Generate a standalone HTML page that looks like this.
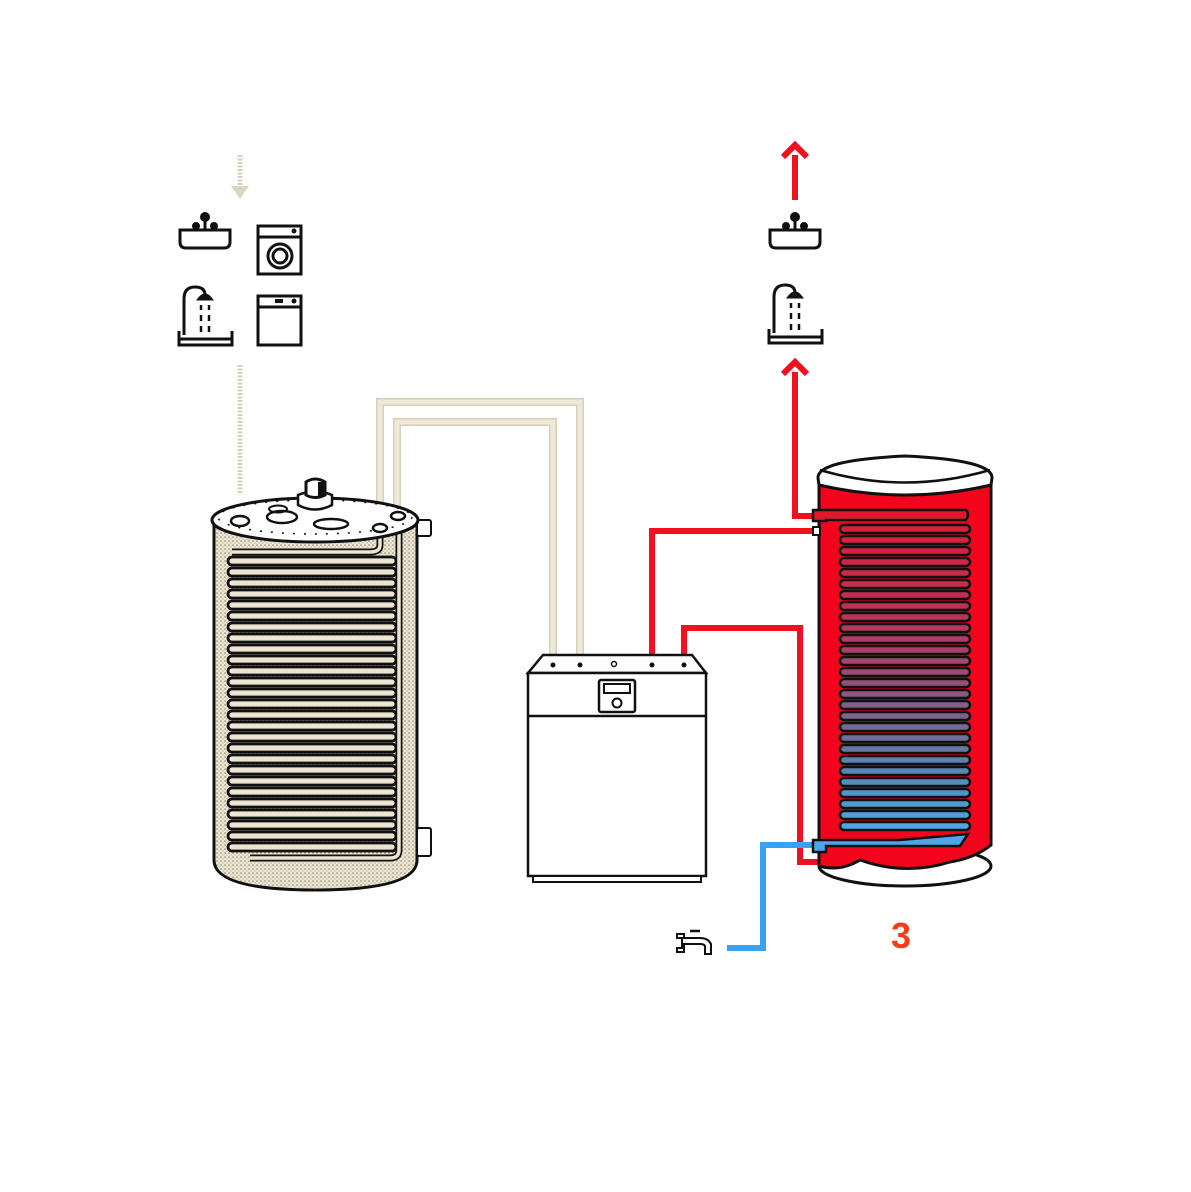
<!DOCTYPE html>
<html><head><meta charset="utf-8"><style>html,body{margin:0;padding:0;background:#fff}svg{display:block}</style></head>
<body>
<svg width="1191" height="1192" viewBox="0 0 1191 1192" xmlns="http://www.w3.org/2000/svg">
<defs>
<pattern id="dots" width="4" height="4" patternUnits="userSpaceOnUse">
<rect width="4" height="4" fill="#ede6d2"/><circle cx="1" cy="1" r="0.8" fill="#8a8170"/><circle cx="3" cy="3" r="0.6" fill="#a79e8a"/>
</pattern>
<rect id="lc" x="228" y="0" width="168" height="8" rx="4" fill="#ece5d2" stroke="#111" stroke-width="2.8"/>
<rect id="rc" x="840" y="0" width="130" height="8" rx="4" stroke="#111" stroke-width="2.6"/>
<g id="sink" fill="none" stroke="#111" stroke-width="3">
<path d="M2 18 H52 V30 Q52 36 46 36 H8 Q2 36 2 30 Z"/>
<circle cx="27" cy="5" r="3.5" fill="#111"/><line x1="27" y1="8" x2="27" y2="18"/>
<circle cx="18" cy="14" r="2.5" fill="#111"/><circle cx="36" cy="14" r="2.5" fill="#111"/>
</g>
<g id="shower" fill="none" stroke="#111" stroke-width="3">
<path d="M6 50 V14 Q6 2 17 2 Q27 2 27 10"/>
<path d="M21 14 Q27 6 33 14 Z" fill="#111"/>
<path d="M1 46 V60 H54 V46 M1 54 H54" />
<g stroke-width="2.5"><line x1="23" y1="20" x2="23" y2="25"/><line x1="31" y1="20" x2="31" y2="25"/><line x1="23" y1="30" x2="23" y2="36"/><line x1="31" y1="30" x2="31" y2="36"/><line x1="23" y1="41" x2="23" y2="47"/><line x1="31" y1="41" x2="31" y2="47"/></g>
</g>
</defs>

<g stroke="#d9d1bc" stroke-width="5" stroke-dasharray="2 1.5" fill="none">
<line x1="240" y1="155" x2="240" y2="188"/>
<line x1="240" y1="365" x2="240" y2="495"/>
</g>
<path d="M231 186 L240 199 L249 186 Z" fill="#ddd5c0"/>

<use href="#sink" x="178" y="212"/>
<use href="#shower" x="178" y="285"/>
<g fill="none" stroke="#111" stroke-width="3">
<rect x="258" y="226" width="43" height="48"/><line x1="258" y1="237" x2="301" y2="237"/>
<circle cx="280" cy="256" r="12"/><circle cx="280" cy="256" r="7"/>
<rect x="258" y="296" width="43" height="49"/><line x1="258" y1="307" x2="301" y2="307"/>
</g>
<circle cx="294" cy="231" r="2.5" fill="#111"/><circle cx="294" cy="301" r="2.5" fill="#111"/>
<rect x="275" y="299" width="8" height="4" fill="#111"/>

<use href="#sink" x="768" y="212"/>
<use href="#shower" x="768" y="283"/>

<g fill="none" stroke-linejoin="miter">
<path d="M380 522 V402 H580 V662" stroke="#d8cfb8" stroke-width="8"/>
<path d="M380 522 V402 H580 V662" stroke="#efe9d9" stroke-width="5"/>
<path d="M397 515 V422 H553 V662" stroke="#d8cfb8" stroke-width="8"/>
<path d="M397 515 V422 H553 V662" stroke="#efe9d9" stroke-width="5"/>
</g>

<g fill="none" stroke="#f2101e" stroke-width="6">
<path d="M652 662 V531 H818"/>
<path d="M684 662 V628 H800 V862 H818"/>
<path d="M818 516 H795 V372"/>
<line x1="795" y1="200" x2="795" y2="155"/>
</g>
<path d="M783 157 L795 145 L807 157" fill="none" stroke="#f2101e" stroke-width="6"/>
<path d="M783 374 L795 362 L807 374" fill="none" stroke="#f2101e" stroke-width="6"/>

<path d="M818 845 H763 V948 H727" fill="none" stroke="#3aa0f2" stroke-width="6"/>

<path d="M677 934 H684 V938 H700 Q708 938 711 944 V954 H705 V946 Q704 944 700 944 H684 V952 H677 V948 H682 V938 H677 Z" fill="#fff" stroke="#111" stroke-width="2"/>
<line x1="690" y1="931" x2="700" y2="931" stroke="#111" stroke-width="2.5"/>

<path d="M214 522 V860 Q214 890 315 890 Q417 890 417 860 V522 Z" fill="url(#dots)" stroke="#111" stroke-width="3"/>
<rect x="417" y="520" width="14" height="16" rx="2" fill="#fff" stroke="#111" stroke-width="2"/>
<rect x="417" y="828" width="14" height="28" rx="2" fill="#fff" stroke="#111" stroke-width="2"/>
<g>
<use href="#lc" y="557"/><use href="#lc" y="568"/><use href="#lc" y="579"/><use href="#lc" y="590"/><use href="#lc" y="601"/><use href="#lc" y="612"/><use href="#lc" y="623"/><use href="#lc" y="634"/><use href="#lc" y="645"/><use href="#lc" y="656"/><use href="#lc" y="667"/><use href="#lc" y="678"/><use href="#lc" y="689"/><use href="#lc" y="700"/><use href="#lc" y="711"/><use href="#lc" y="722"/><use href="#lc" y="733"/><use href="#lc" y="744"/><use href="#lc" y="755"/><use href="#lc" y="766"/><use href="#lc" y="777"/><use href="#lc" y="788"/><use href="#lc" y="799"/><use href="#lc" y="810"/><use href="#lc" y="821"/><use href="#lc" y="832"/><use href="#lc" y="843"/>
</g>
<path d="M380 530 V545 Q380 552 370 552 H232" fill="none" stroke="#111" stroke-width="7"/>
<path d="M380 530 V545 Q380 552 370 552 H232" fill="none" stroke="#ece5d2" stroke-width="3.5"/>
<path d="M399 525 V850 Q399 858 390 858 H250" fill="none" stroke="#111" stroke-width="7"/>
<path d="M399 525 V850 Q399 858 390 858 H250" fill="none" stroke="#ece5d2" stroke-width="3.5"/>
<ellipse cx="315" cy="520" rx="103" ry="22" fill="#fff" stroke="#111" stroke-width="3"/>
<ellipse cx="315" cy="517" rx="97" ry="17" fill="none" stroke="#111" stroke-width="1.5" stroke-dasharray="2 9"/>
<ellipse cx="240" cy="521" rx="9" ry="5" fill="#fff" stroke="#111" stroke-width="2.5"/>
<ellipse cx="282" cy="517" rx="15" ry="6" fill="none" stroke="#111" stroke-width="2.5"/>
<ellipse cx="278" cy="509" rx="9" ry="3.5" fill="none" stroke="#111" stroke-width="2"/>
<ellipse cx="331" cy="524" rx="17" ry="5" fill="none" stroke="#111" stroke-width="2.5"/>
<path d="M298 505 V495 Q315 488 332 495 V505 Q315 514 298 505 Z" fill="#fff" stroke="#111" stroke-width="2.5"/>
<path d="M306 495 V482 Q315 476 325 482 V495 Q315 500 306 495 Z" fill="#fff" stroke="#111" stroke-width="3"/>
<rect x="318" y="482" width="6" height="14" fill="#111"/>
<ellipse cx="380" cy="528" rx="7" ry="4" fill="#fff" stroke="#111" stroke-width="2.5"/>
<ellipse cx="398" cy="516" rx="7" ry="4" fill="#fff" stroke="#111" stroke-width="2.5"/>

<path d="M543 655 H692 L706 673 H528 Z" fill="#fff" stroke="#111" stroke-width="2.5"/>
<rect x="528" y="673" width="178" height="203" fill="#fff" stroke="#111" stroke-width="2.5"/>
<line x1="528" y1="716" x2="706" y2="716" stroke="#111" stroke-width="2.5"/>
<rect x="533" y="876" width="168" height="6" fill="#fff" stroke="#111" stroke-width="2"/>
<rect x="599" y="680" width="36" height="32" rx="2" fill="#fff" stroke="#111" stroke-width="2.5"/>
<rect x="604" y="684" width="26" height="9" fill="#fff" stroke="#111" stroke-width="2"/>
<circle cx="617" cy="703" r="4.5" fill="#fff" stroke="#111" stroke-width="2"/>
<circle cx="614" cy="664" r="2.5" fill="#fff" stroke="#111" stroke-width="1.5"/>
<g fill="#111"><circle cx="553" cy="665" r="2.5"/><circle cx="580" cy="665" r="2.5"/><circle cx="652" cy="665" r="2.5"/><circle cx="684" cy="665" r="2.5"/></g>

<ellipse cx="905" cy="866" rx="86" ry="20" fill="#fff" stroke="#111" stroke-width="3"/>
<path d="M819 480 V866 Q840 872 860 860 Q905 876 950 862 Q975 858 991 845 V480 Z" fill="#f2041c" stroke="#111" stroke-width="3"/>
<g>
<use href="#rc" y="525" fill="#d8203c"/><use href="#rc" y="536" fill="#d5223f"/><use href="#rc" y="547" fill="#d22442"/><use href="#rc" y="558" fill="#cf2645"/><use href="#rc" y="569" fill="#cc2848"/><use href="#rc" y="580" fill="#c82b4c"/><use href="#rc" y="591" fill="#c42e50"/><use href="#rc" y="602" fill="#c03154"/><use href="#rc" y="613" fill="#bb3558"/><use href="#rc" y="624" fill="#b6395d"/><use href="#rc" y="635" fill="#b03d62"/><use href="#rc" y="646" fill="#aa4267"/><use href="#rc" y="657" fill="#a3476d"/><use href="#rc" y="668" fill="#9c4c73"/><use href="#rc" y="679" fill="#945279"/><use href="#rc" y="690" fill="#8c5880"/><use href="#rc" y="701" fill="#845e87"/><use href="#rc" y="712" fill="#7c648e"/><use href="#rc" y="723" fill="#746a96"/><use href="#rc" y="734" fill="#6c719d"/><use href="#rc" y="745" fill="#6578a5"/><use href="#rc" y="756" fill="#5f7fad"/><use href="#rc" y="767" fill="#5986b5"/><use href="#rc" y="778" fill="#558dbd"/><use href="#rc" y="789" fill="#5294c5"/><use href="#rc" y="800" fill="#509acd"/><use href="#rc" y="811" fill="#4fa0d6"/><use href="#rc" y="822" fill="#4ea4ee"/>
</g>
<path d="M813 510 H966 Q970 514 966 520 H826 V521 H813 Z" fill="#e0182c" stroke="#111" stroke-width="2.5"/>
<rect x="813" y="527" width="7" height="8" fill="#fff" stroke="#111" stroke-width="2"/>
<path d="M813 840 H900 L968 834 L960 846 H826 V852 H813 Z" fill="#4ea4ee" stroke="#111" stroke-width="2.5"/>
<path d="M818 478 Q817 460 905 456 Q993 460 992 478 L991 485 Q905 505 819 485 Z" fill="#fff" stroke="#111" stroke-width="3"/>
<path d="M820 470 Q905 495 990 470" fill="none" stroke="#111" stroke-width="2.5"/>

<text x="901" y="948" font-family="Liberation Sans, sans-serif" font-size="36" font-weight="bold" fill="#ff3a1c" text-anchor="middle">3</text>
</svg>
</body></html>
